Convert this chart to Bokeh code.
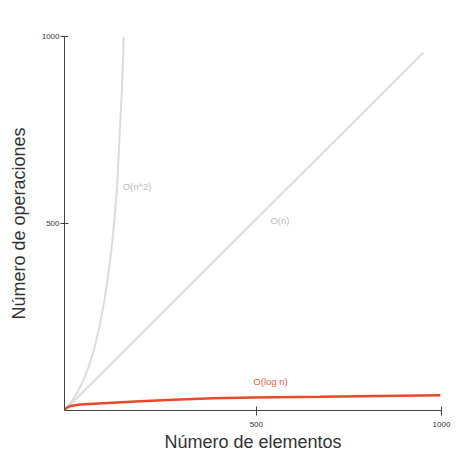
from bokeh.plotting import figure
from bokeh.models import Range1d, FixedTicker
from bokeh.core.properties import value
from bokeh.embed import file_html
from bokeh.resources import INLINE

# Data
n2_x = [-18, -2, 14, 31, 47, 63, 76, 90, 101, 110, 117, 124, 130, 137, 142]
n2_y = [0, 20, 44, 76, 116, 167, 223, 295, 369, 441, 513, 598, 721, 855, 1000]

n_x = [-18, 951]
n_y = [0, 957]

log_x = [-18, -13, -2, 25, 98, 187, 276, 384, 492, 673, 835, 997]
log_y = [0, 7, 12, 16, 20, 25, 29, 33, 35, 37, 39, 41]

label_text = ["O(n^2)", "O(n)"]
label_x = [139, 538]
label_y = [598, 507]
log_label_text = ["O(log n)"]
log_label_x = [492]
log_label_y = [77]

x_ticks = [500, 1000]
y_ticks = [500, 1000]

FONT = "Liberation Sans"

p = figure(width=465, height=465, x_range=Range1d(-18, 1000), y_range=Range1d(0, 1000),
           output_backend="svg", toolbar_location=None,
           min_border_left=64, min_border_right=24, min_border_top=36, min_border_bottom=55)
p.outline_line_color = None
p.xgrid.visible = False
p.ygrid.visible = False

p.line(n2_x, n2_y, line_color="#dcdcdc", line_width=2)
p.line(n_x, n_y, line_color="#dcdcdc", line_width=2)
p.line(log_x, log_y, line_color="#e8492a", line_width=2.5)

p.text(x=label_x, y=label_y, text=label_text, text_color="#bbbbbb", text_font=value(FONT),
       text_font_size="9.5px", text_baseline="middle", text_align="left")
p.text(x=log_label_x, y=log_label_y, text=log_label_text, text_color="#f0603f", text_font=value(FONT),
       text_font_size="9.5px", text_baseline="middle", text_align="left")

for ax in (p.xaxis[0], p.yaxis[0]):
    ax.axis_line_color = "#444444"
    ax.major_tick_line_color = "#444444"
    ax.minor_tick_line_color = None
    ax.major_label_text_font = FONT
    ax.major_label_text_font_size = "8px"
    ax.major_label_text_color = "#333333"
    ax.axis_label_text_font = FONT
    ax.axis_label_text_font_size = "18px"
    ax.axis_label_text_font_style = "normal"
    ax.axis_label_text_color = "#333333"

p.xaxis.ticker = FixedTicker(ticks=x_ticks)
p.yaxis.ticker = FixedTicker(ticks=y_ticks)
p.xaxis.axis_label = "Número de elementos"
p.yaxis.axis_label = "Número de operaciones"
p.xaxis.major_tick_in = 4
p.xaxis.major_tick_out = 5
p.yaxis.major_tick_in = 4
p.yaxis.major_tick_out = 4
p.xaxis.major_label_standoff = 6
p.yaxis.major_label_standoff = 1
p.xaxis.axis_label_standoff = 2
p.yaxis.axis_label_standoff = 10

open("out.html", "w").write(file_html(p, INLINE))
